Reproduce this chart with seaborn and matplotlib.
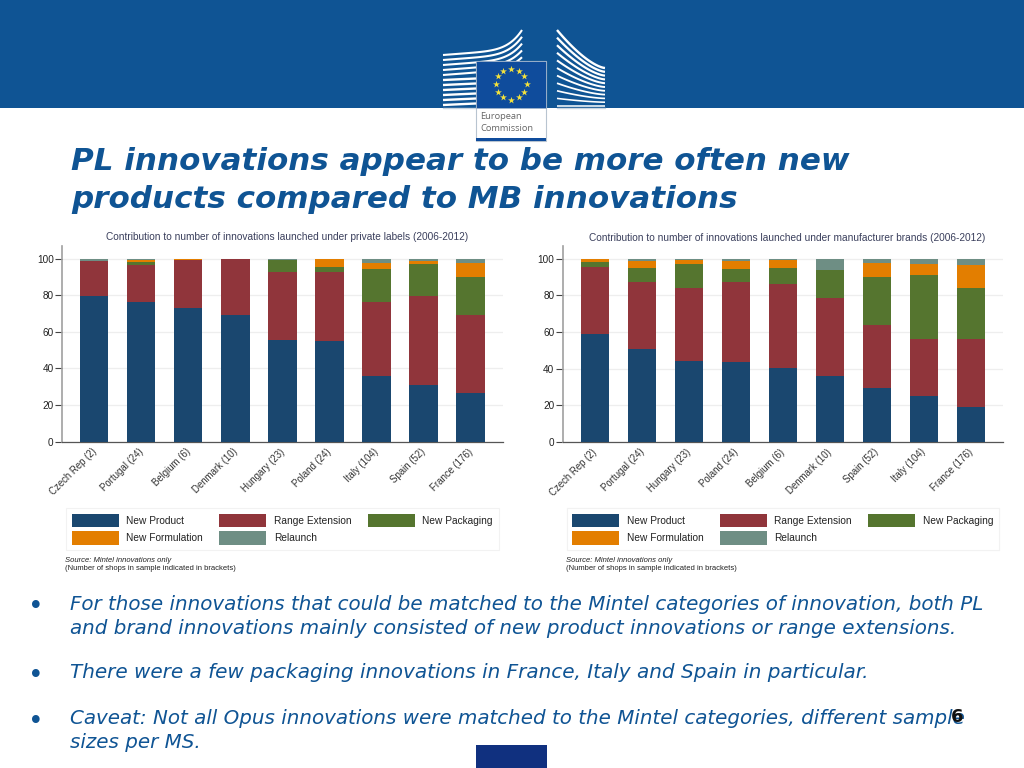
"""
plot.py
Slide with two stacked bar charts: PL vs MB innovations by country.
"""

import numpy as np
import pandas as pd
import matplotlib
matplotlib.use("Agg")
import matplotlib.pyplot as plt
from matplotlib.patches import Patch, Rectangle
from matplotlib.transforms import ScaledTranslation
import seaborn as sns

# Left chart: private labels
pl_countries = ["Czech Rep (2)", "Portugal (24)", "Belgium (6)", "Denmark (10)", "Hungary (23)",
                "Poland (24)", "Italy (104)", "Spain (52)", "France (176)"]
pl_product = [79.5, 76.2, 73.1, 69.3, 55.5, 55.1, 35.8, 31.0, 26.7]
pl_range = [19.0, 20.2, 26.2, 30.7, 37.2, 37.6, 40.4, 48.5, 42.6]
pl_packaging = [0.0, 1.8, 0.0, 0.0, 6.4, 2.8, 18.0, 17.5, 20.7]
pl_formulation = [0.0, 1.2, 0.7, 0.0, 0.0, 4.5, 3.6, 1.9, 7.8]
pl_relaunch = [1.5, 0.6, 0.0, 0.0, 0.9, 0.0, 2.2, 1.1, 2.2]

# Right chart: manufacturer brands
mb_countries = ["Czech Rep (2)", "Portugal (24)", "Hungary (23)", "Poland (24)", "Belgium (6)",
                "Denmark (10)", "Spain (52)", "Italy (104)", "France (176)"]
mb_product = [59.2, 50.8, 44.4, 43.5, 40.4, 36.2, 29.7, 25.0, 19.3]
mb_range = [36.1, 36.6, 39.8, 43.6, 46.1, 42.5, 33.9, 31.5, 37.2]
mb_packaging = [3.2, 7.7, 13.1, 7.4, 8.6, 15.1, 26.6, 34.8, 27.7]
mb_formulation = [1.5, 3.8, 2.2, 4.4, 4.2, 0.0, 7.3, 5.8, 12.2]
mb_relaunch = [0.0, 1.1, 0.5, 1.1, 0.7, 6.2, 2.5, 2.9, 3.6]

series_names = ["New Product", "Range Extension", "New Packaging", "New Formulation", "Relaunch"]
series_colors = ["#1a476f", "#90353b", "#55752f", "#e37e00", "#6e8e84"]
y_ticks = [0, 20, 40, 60, 80, 100]

title_lines = ["PL innovations appear to be more often new",
               "products compared to MB innovations"]
bullet_lines = [
    ["For those innovations that could be matched to the Mintel categories of innovation, both PL",
     "and brand innovations mainly consisted of new product innovations or range extensions."],
    ["There were a few packaging innovations in France, Italy and Spain in particular."],
    ["Caveat: Not all Opus innovations were matched to the Mintel categories, different sample",
     "sizes per MS."],
]

W, H = 1024, 768
BLUE = "#0f5494"

sns.set_theme(style="white")
plt.rcParams["font.family"] = ["Liberation Sans", "DejaVu Sans"]

fig = plt.figure(figsize=(W / 100, H / 100), dpi=100, facecolor="white")

# Full-figure axes in pixel coordinates for the slide furniture
bg = fig.add_axes([0, 0, 1, 1])
bg.set_xlim(0, W)
bg.set_ylim(H, 0)
bg.axis("off")

bg.add_patch(Rectangle((0, 0), W, 107.5, color=BLUE, lw=0))

# Logo: left wing of the building
t = np.linspace(0, 1, 60)
for i in range(11):
    y0 = 55 + i * 5
    if i < 5:
        xs = 443 + 79 * t
        ye = 30 + i * 6.8
        ys = y0 - 6 * t + (ye - y0 + 6) * t ** 6
    else:
        xs = 443 + 33 * t
        ys = y0 - 1.5 * t
    bg.plot(xs, ys, color="white", lw=1.5 if i < 5 else 1.7, solid_capstyle="butt")
# Logo: right wing
for i in range(11):
    y0 = 30 + i * 7.6
    y1 = 68 + i * 3.8
    xs = 557 + 48 * t
    ys = y0 + (y1 - y0) * (1 - (1 - t) ** 1.5)
    bg.plot(xs, ys, color="white", lw=1.7 - i * 0.06, solid_capstyle="butt")
bg.plot([443, 476], [107.5, 107.5], color="#c8d4e0", lw=1)
bg.plot([557, 605], [107.5, 107.5], color="#c8d4e0", lw=1)

# Logo: flag and name plate
bg.add_patch(Rectangle((476, 61), 70, 80, facecolor="white", edgecolor="#b8c4d0", lw=0.8, zorder=3))
bg.add_patch(Rectangle((476, 61), 70, 47, facecolor="#0f4c9c", edgecolor="#9fb4cc", lw=0.6, zorder=3))
bg.add_patch(Rectangle((476, 137.5), 70, 3.5, color="#0f4c9c", lw=0, zorder=4))
angles = np.deg2rad(np.arange(0, 360, 30))
bg.scatter(511 + 15.5 * np.sin(angles), 84 - 15.5 * np.cos(angles), marker="*", s=27,
           color="#f5e33c", linewidths=0, zorder=5)
bg.text(480, 116.5, "European", family="Open Sans", fontsize=6.7, color="#666666", va="center", zorder=5)
bg.text(480, 128.5, "Commission", family="Open Sans", fontsize=6.7, color="#666666", va="center", zorder=5)

# Small flag at the bottom edge
bg.add_patch(Rectangle((476, 745), 71, 23, color="#10307f", lw=0))

# Slide title
for line, y in zip(title_lines, [161, 199]):
    bg.text(71, y, line, family="DejaVu Sans", fontsize=22.35, fontweight="bold", style="italic",
            color=BLUE, va="center")

# Bullets, sizes nudged so each line ends where the original does
for lines, y0, size in zip(bullet_lines, [604, 673, 719], [14.3, 14.45, 14.35]):
    bg.text(36, y0 + 3, "•", family="DejaVu Sans", fontsize=19, color=BLUE, ha="center", va="center")
    for k, line in enumerate(lines):
        bg.text(70, y0 + k * 24, line, family="DejaVu Sans", fontsize=size, style="italic",
                color=BLUE, va="center")
bg.text(957, 717, "6", family="DejaVu Sans", fontsize=13, fontweight="bold", color="#111111",
        ha="center", va="center", zorder=6)


def draw_chart(box, title, title_x, title_y, countries, series, legend_x, source_x):
    # box is left, right, top, bottom in pixels
    left, right, top, bottom = box
    ax = fig.add_axes([left / W, 1 - bottom / H, (right - left) / W, (bottom - top) / H])
    ax.patch.set_alpha(0)

    base = np.zeros(len(countries))
    for vals, name, col in zip(series, series_names, series_colors):
        df = pd.DataFrame({"country": countries, "share": vals})
        sns.barplot(data=df, x="country", y="share", color=col, saturation=1, width=0.6,
                    bottom=base, ax=ax, zorder=3, linewidth=0)
        base = base + np.array(vals)

    ax.set_xlim(-0.687, 8.69)
    ax.set_ylim(0, 107)
    ax.set_xlabel("")
    ax.set_ylabel("")
    ax.set_yticks(y_ticks)
    ax.tick_params(axis="y", left=True, length=5, width=0.8, color="#444444", labelsize=7.2,
                   labelcolor="#222222", pad=1)
    ax.tick_params(axis="x", bottom=False, labelsize=6.9, labelcolor="#333333", pad=4)
    ax.set_xticks(range(len(countries)))
    ax.set_xticklabels(countries, rotation=45, ha="right", rotation_mode="anchor")
    shift = ScaledTranslation(-3 / 100, 9 / 100, fig.dpi_scale_trans)
    for lab in ax.get_xticklabels():
        lab.set_transform(lab.get_transform() + shift)
    ax.grid(axis="y", color="#eeeeee", lw=0.9, zorder=0)
    ax.set_axisbelow(True)
    sns.despine(ax=ax, top=True, right=True)
    ax.spines["left"].set_color("#a0a0a0")
    ax.spines["left"].set_linewidth(1.2)
    ax.spines["bottom"].set_color("#555555")
    ax.spines["bottom"].set_linewidth(0.9)

    bg.text(title_x, title_y, title, fontsize=7.25, color="#3a3f5c", ha="center", va="center")

    # Legend, column-wise so the rows read like the original
    order = [0, 3, 1, 4, 2]
    handles = [Patch(facecolor=series_colors[i], edgecolor="none", label=series_names[i]) for i in order]
    leg = bg.legend(handles=handles, ncol=3, loc="upper left",
                    bbox_to_anchor=(legend_x / W, 1 - 508 / H), bbox_transform=fig.transFigure,
                    fontsize=7.25, frameon=True, fancybox=False, edgecolor="#f2f2f2", framealpha=1,
                    handlelength=4.67, handleheight=1.7, handletextpad=0.75, columnspacing=1.63,
                    labelspacing=0.42, borderpad=0.55, borderaxespad=0, labelcolor="#222222")
    leg.get_frame().set_linewidth(0.8)
    bg.add_artist(leg)

    bg.text(source_x, 560.5, "Source: Mintel innovations only", fontsize=5.48, style="italic",
            color="#222222", va="center")
    bg.text(source_x, 568.3, "(Number of shops in sample indicated in brackets)", fontsize=5.48,
            color="#222222", va="center")
    return ax


draw_chart((62, 503, 245.7, 441.7),
           "Contribution to number of innovations launched under private labels (2006-2012)",
           287.5, 237.5, pl_countries,
           [pl_product, pl_range, pl_packaging, pl_formulation, pl_relaunch], 66, 65)
draw_chart((562.7, 1003, 246, 442),
           "Contribution to number of innovations launched under manufacturer brands (2006-2012)",
           787.5, 238.3, mb_countries,
           [mb_product, mb_range, mb_packaging, mb_formulation, mb_relaunch], 566.5, 565.5)

fig.savefig("out.png", dpi=100)
plt.close(fig)
